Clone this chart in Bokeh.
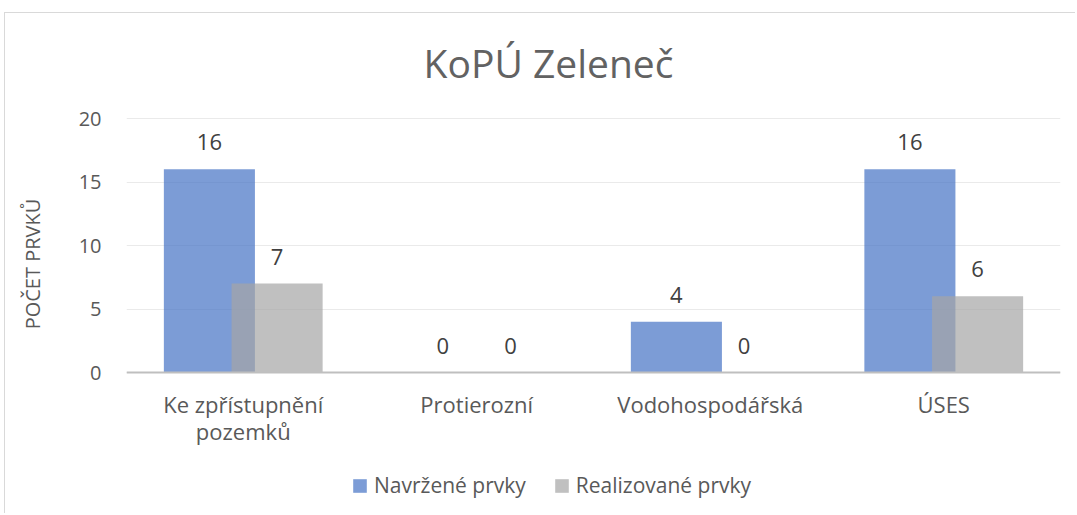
from bokeh.plotting import figure
from bokeh.models import (ColumnDataSource, LabelSet, Label, Legend, LegendItem, FactorRange, Range1d,
                          Span)
from bokeh.transform import dodge
from bokeh.core.properties import value
from bokeh.embed import file_html
from bokeh.resources import INLINE

categories = ["Ke zpřístupnění pozemků", "Protierozní", "Vodohospodářská", "ÚSES"]
label_line1 = ["Ke zpřístupnění", "Protierozní", "Vodohospodářská", "ÚSES"]
label_line2 = ["pozemků", "", "", ""]
navrzene = [16, 0, 4, 16]
realizovane = [7, 0, 0, 6]
series_names = ["Navržené prvky", "Realizované prvky"]
y_ticks = [0, 5, 10, 15, 20]
title_text = "KoPÚ Zeleneč"
y_title = "POČET PRVKŮ"

FONT = "Open Sans"
TXT = "#595959"
FS = "22px"

# chart-area border offset (top-left corner of the chart box)
OX, OY = 5, 13
W, H = 1076 - OX, 514 - OY
LEFT, RIGHT = 126 - OX, W - (1060 - OX)
PX_PER_UNIT = 12.7                   # 20 units over 254 px
TOP_PX, BOTTOM_PX = 118 - OY, H - (372 - OY)

src = ColumnDataSource(dict(cat=categories, nav=navrzene, rea=realizovane,
                            nav_t=[str(v) for v in navrzene], rea_t=[str(v) for v in realizovane],
                            l1=label_line1, l2=label_line2, zero=[0] * len(categories)))

ymax = max(y_ticks)
p = figure(x_range=FactorRange(*categories, range_padding=0),
           y_range=Range1d(-BOTTOM_PX / PX_PER_UNIT, ymax + TOP_PX / PX_PER_UNIT),
           width=W, height=H, output_backend="svg", toolbar_location=None,
           min_border_left=LEFT, min_border_right=RIGHT, min_border_top=0, min_border_bottom=0)
p.outline_line_color = None
p.background_fill_color = "white"
p.border_fill_color = "white"
p.styles = {"margin-top": f"{OY - 1}px", "margin-left": f"{OX - 1}px",
            "border-top": "1px solid #D9D9D9", "border-left": "1px solid #D9D9D9"}

off = 0.145
w = 0.39
r1 = p.vbar(x=dodge("cat", -off, range=p.x_range), top="nav", width=w, source=src,
            fill_color="#4472C4", fill_alpha=0.7, line_color=None)
r2 = p.vbar(x=dodge("cat", off, range=p.x_range), top="rea", width=w, source=src,
            fill_color="#A5A5A5", fill_alpha=0.7, line_color=None)

# baseline (category axis line)
p.add_layout(Span(location=0, dimension="width", line_color="#BFBFBF", line_width=2))

# data labels
for fld, o in (("nav", -off), ("rea", off)):
    p.add_layout(LabelSet(x=dodge("cat", o, range=p.x_range), y=fld, text=fld + "_t", source=src,
                          y_offset=27, text_align="center", text_baseline="middle",
                          text_font=value(FONT), text_font_size=FS, text_color="#404040"))

# category labels (two lines)
for col, yo in (("l1", -31), ("l2", -58)):
    p.add_layout(LabelSet(x="cat", y="zero", text=col, source=src, y_offset=yo,
                          text_align="center", text_baseline="middle",
                          text_font=value(FONT), text_font_size=FS, text_color=TXT))

# title
p.add_layout(Label(x=548 - 126, y=H - (62 - OY), x_units="screen", y_units="screen", text=title_text,
                   text_align="center", text_baseline="middle", text_font=FONT,
                   text_font_size="39px", text_color="#626262"))

p.xaxis.visible = False

# y axis
p.yaxis.ticker = y_ticks
p.yaxis.axis_line_color = None
p.yaxis.major_tick_line_color = None
p.yaxis.minor_tick_line_color = None
p.yaxis.major_tick_out = 0
p.yaxis.major_tick_in = 0
p.yaxis.major_label_standoff = 25
p.yaxis.major_label_text_font = FONT
p.yaxis.major_label_text_font_size = "20px"
p.yaxis.major_label_text_color = TXT
p.yaxis.axis_label = y_title
p.yaxis.axis_label_text_font = FONT
p.yaxis.axis_label_text_font_size = "20px"
p.yaxis.axis_label_text_font_style = "normal"
p.yaxis.axis_label_text_color = TXT
p.yaxis.axis_label_standoff = 30

p.xgrid.grid_line_color = None
p.ygrid.ticker = y_ticks
p.ygrid.grid_line_color = "#EAEAEA"
p.ygrid.grid_line_width = 1

legend = Legend(items=[LegendItem(label=series_names[0], renderers=[r1]),
                       LegendItem(label=series_names[1], renderers=[r2])],
                location=(225, H - (499 - OY)), orientation="horizontal", padding=0, margin=0,
                spacing=27, glyph_width=17, glyph_height=17, label_standoff=6,
                label_text_font=FONT, label_text_font_size="21px", label_text_color=TXT,
                border_line_color=None, background_fill_alpha=0)
p.add_layout(legend, "center")

open("out.html", "w").write(file_html(p, INLINE))
